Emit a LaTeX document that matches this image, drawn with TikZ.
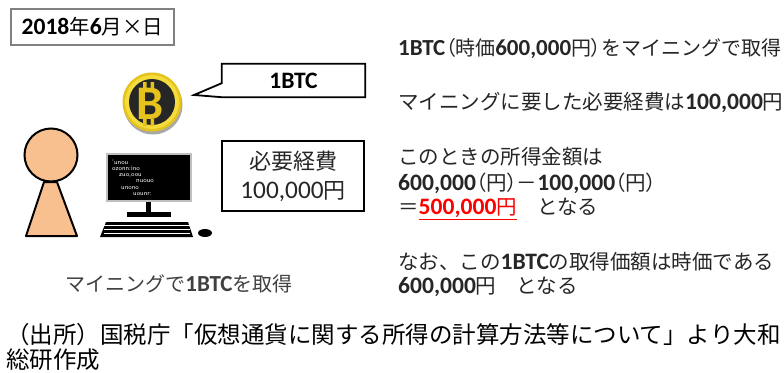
\documentclass[tikz,border=0pt]{standalone}
\usepackage{fontspec}
\setmainfont{Noto Sans CJK JP}
\newfontfamily\jpp{Noto Sans CJK JP}[RawFeature=+palt]
\newfontfamily\latfont{Carlito}[Scale=1.15]
\usetikzlibrary{calc,positioning,shapes.geometric}
\definecolor{skin}{HTML}{F8BF8F}
\definecolor{coingold}{HTML}{E6C21C}
\definecolor{coinrim}{HTML}{F4DC3C}
\definecolor{coindark}{HTML}{262626}
\definecolor{framegray}{HTML}{BFBFBF}
\newcommand{\lb}[1]{{\latfont\bfseries #1}}
\newcommand{\lr}[1]{{\latfont #1}}
\newcommand{\pa}[1]{{\jpp （}#1{\jpp ）}}

\begin{document}
\begin{tikzpicture}[x=1pt,y=-1pt,
	box/.style={draw,line width=1.8pt,fill=white,inner sep=0pt},
	txt/.style={anchor=west,inner sep=0pt,text=black!85,font=\fontsize{20.5}{22}\selectfont},
	scr/.style={anchor=west,inner sep=0pt,text=white,font=\sffamily\fontsize{6.5}{6.5}\selectfont}]
\useasboundingbox (0,0) rectangle (784,372);
% date label
\node[draw=gray,line width=1.4pt,minimum width=163pt,minimum height=36pt,inner sep=0pt,
	font=\fontsize{20.5}{22}\selectfont] (date) at (92.5,27) {\lb{2018}年\lb{6}月×日};
% bitcoin
\fill[coindark!40] (153,105) circle (29.5);
\fill[coingold] (152,102) circle (29.5);
\fill[coinrim] (152,102) circle (27);
\fill[coindark] (152,102) circle (23);
\node[text=coingold,inner sep=0pt,font=\latfont\bfseries\fontsize{42}{42}\selectfont] (coin) at (150,104) {B};
\fill[coingold] (143,82) rectangle (146.5,89) (150.5,82) rectangle (154,89)
	(143,119) rectangle (146.5,126) (150.5,119) rectangle (154,126);
% callout with 1BTC
\node[inner sep=0pt,minimum width=143pt,minimum height=33pt] (btc) at (293.5,80.5) {};
\coordinate (tip) at (194,95);
\draw[line width=1.8pt,line join=miter,fill=white] (btc.south west) -- (tip) -- ($(btc.south west)!0.42!(btc.north west)$)
	|- (btc.north east) |- cycle;
\node[font=\fontsize{20.5}{22}\selectfont] at (btc) {\lb{1BTC}};
% expense box
\node[box,minimum width=142pt,minimum height=70pt,align=center,text=black!85,
	font=\fontsize{22}{29}\selectfont] (cost) at (293,176) {必要経費\\\lr{100,000}円};
% person
\filldraw[fill=skin,line width=2pt,line join=round] (44,182) -- (57,182) -- (77,236) -- (26,236) -- cycle;
\filldraw[fill=skin,line width=2pt] (51,155) circle (26.5) coordinate (head);
% computer
\filldraw[fill=black,draw=framegray,line width=2pt] (107,154) rectangle (191,201);
\node[scr] (s1) at (112,162) {'unou};
\node[scr] (s2) at (112,168.5) {ozonn:ino};
\node[scr] (s3) at (119,175) {zuo,oou};
\node[scr] (s4) at (136,181.5) {nuouo};
\node[scr] (s5) at (121,188) {unono};
\node[scr] (s6) at (133,194.5) {uounr:};
\fill (146,202) rectangle (151,214);
\fill (127,212) rectangle (171,217);
\fill (106,222) -- (188,222) -- (193,237) -- (100,237) -- cycle;
\foreach \y in {225.5,229.5,233.5}
	\draw[white,line width=0.6pt] (104,\y) -- (190,\y);
\fill (205,233) ellipse (7 and 4);
\node[inner sep=0pt,text=black!75,font=\fontsize{20}{22}\selectfont] (mine) at (179,284) {マイニングで\lb{1BTC}を取得};
% explanation
\node[txt,font=\fontsize{20}{22}\selectfont] (l1) at (398,48) {\lb{1BTC}\pa{時価\lb{600,000}円}をマイニングで取得};
\node[txt] (l2) at (398,102) {マイニングに要した必要経費は\lb{100,000}円};
\node[txt] (l3) at (398,157) {このときの所得金額は};
\node[txt] (l4) at (398,183) {\lb{600,000}\pa{円}－\lb{100,000}\pa{円}};
\node[txt] (l5) at (398,209) {＝\textcolor{red}{\underline{\lb{500,000}円}}　となる};
\node[txt] (l6) at (398,262) {なお、この\lb{1BTC}の取得価額は時価である};
\node[txt] (l7) at (398,287) {\lb{600,000}円　となる};
% source
\node[anchor=west,inner sep=0pt,align=left,font=\fontsize{23.5}{25}\selectfont] (src) at (6,347)
	{（出所）国税庁「仮想通貨に関する所得の計算方法等について」より大和\\総研作成};
\end{tikzpicture}
\end{document}
